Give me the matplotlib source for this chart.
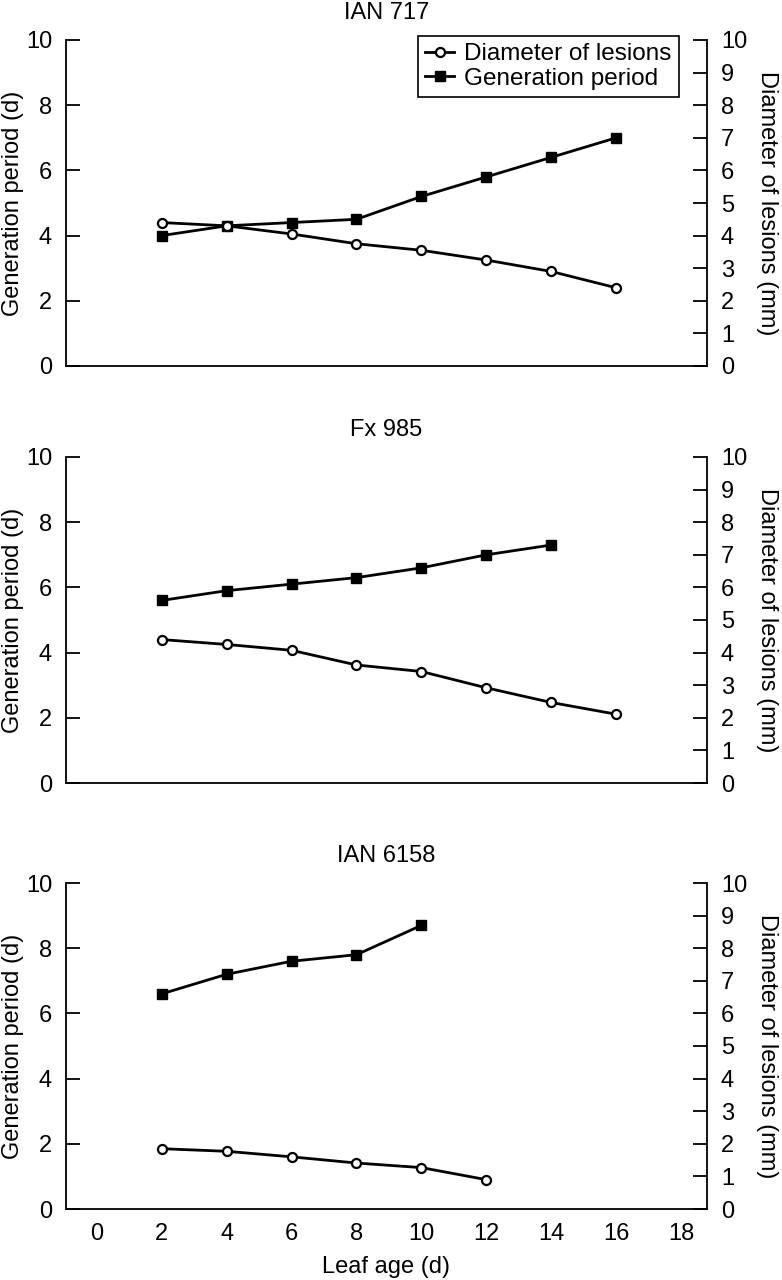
import matplotlib.pyplot as plt
from matplotlib.lines import Line2D

plt.rcParams['font.family'] = ['Liberation Sans', 'DejaVu Sans']

leaf_age = [2, 4, 6, 8, 10, 12, 14, 16]
titles = ['IAN 717', 'Fx 985', 'IAN 6158']

gen_ian717 = [4.0, 4.3, 4.4, 4.5, 5.2, 5.8, 6.4, 7.0]
diam_ian717 = [4.4, 4.3, 4.05, 3.75, 3.55, 3.25, 2.9, 2.4]

gen_fx985 = [5.6, 5.9, 6.1, 6.3, 6.6, 7.0, 7.3]
diam_fx985 = [4.4, 4.25, 4.07, 3.62, 3.42, 2.92, 2.47, 2.11]

gen_ian6158 = [6.6, 7.2, 7.6, 7.8, 8.7]
diam_ian6158 = [1.85, 1.77, 1.6, 1.41, 1.27, 0.9]

gen_all = [gen_ian717, gen_fx985, gen_ian6158]
diam_all = [diam_ian717, diam_fx985, diam_ian6158]

fig = plt.figure(figsize=(7.82, 12.8), dpi=100)
W, H = 782, 1280
left, right = 66, 707
tops = [40, 457, 883]
ph = 326
fs = 17

for i in range(3):
    ax = fig.add_axes([left / W, 1 - (tops[i] + ph) / H, (right - left) / W, ph / H])
    ax2 = ax.twinx()
    g = gen_all[i]
    d = diam_all[i]
    ax2.plot(leaf_age[:len(d)], d, '-o', color='black', lw=2, ms=6.5,
             mfc='white', mec='black', mew=1.6)
    ax.plot(leaf_age[:len(g)], g, '-s', color='black', lw=2, ms=7,
            mfc='black', mec='black')
    for a in (ax, ax2):
        a.set_xlim(-0.95, 18.8)
        a.set_ylim(0, 10)
        a.spines['top'].set_visible(False)
    for s in ('left', 'bottom'):
        ax2.spines[s].set_visible(False)
    ax.spines['right'].set_visible(False)
    for s in ('left', 'bottom'):
        ax.spines[s].set_linewidth(1.3)
    ax2.spines['right'].set_linewidth(1.3)
    ax.set_yticks(range(0, 11, 2))
    ax2.set_yticks(range(0, 11, 1))
    ax.tick_params(axis='y', direction='in', length=10, width=1.3, labelsize=fs, pad=10)
    ax2.tick_params(axis='y', direction='in', length=10, width=1.3, labelsize=fs, pad=10)
    ax.set_ylabel('Generation period (d)', fontsize=fs)
    ax.yaxis.set_label_coords(-0.066, 0.5)
    ax2.set_ylabel('Diameter of lesions (mm)', fontsize=fs, rotation=-90, labelpad=22)
    ax.set_title(titles[i], fontsize=fs, pad=15)
    ax.set_xticks(range(0, 19, 2))
    if i == 2:
        ax.tick_params(axis='x', length=0, labelsize=fs, pad=10)
        ax.set_xlabel('Leaf age (d)', fontsize=fs, labelpad=8)
    else:
        ax.tick_params(axis='x', length=0, labelbottom=False)
    if i == 0:
        handles = [
            Line2D([], [], color='black', lw=2, marker='o', ms=6.5, mfc='white', mew=1.6),
            Line2D([], [], color='black', lw=2, marker='s', ms=7),
        ]
        leg = ax2.legend(handles, ['Diameter of lesions', 'Generation period'],
                         loc='upper right', bbox_to_anchor=(0.956, 1.012),
                         borderaxespad=0, fontsize=17.5, handlelength=1.2,
                         handletextpad=0.4, fancybox=False, framealpha=1,
                         edgecolor='black', borderpad=0.3, labelspacing=0.1)
        leg.get_frame().set_linewidth(1.2)

fig.savefig('out.png', dpi=100)
